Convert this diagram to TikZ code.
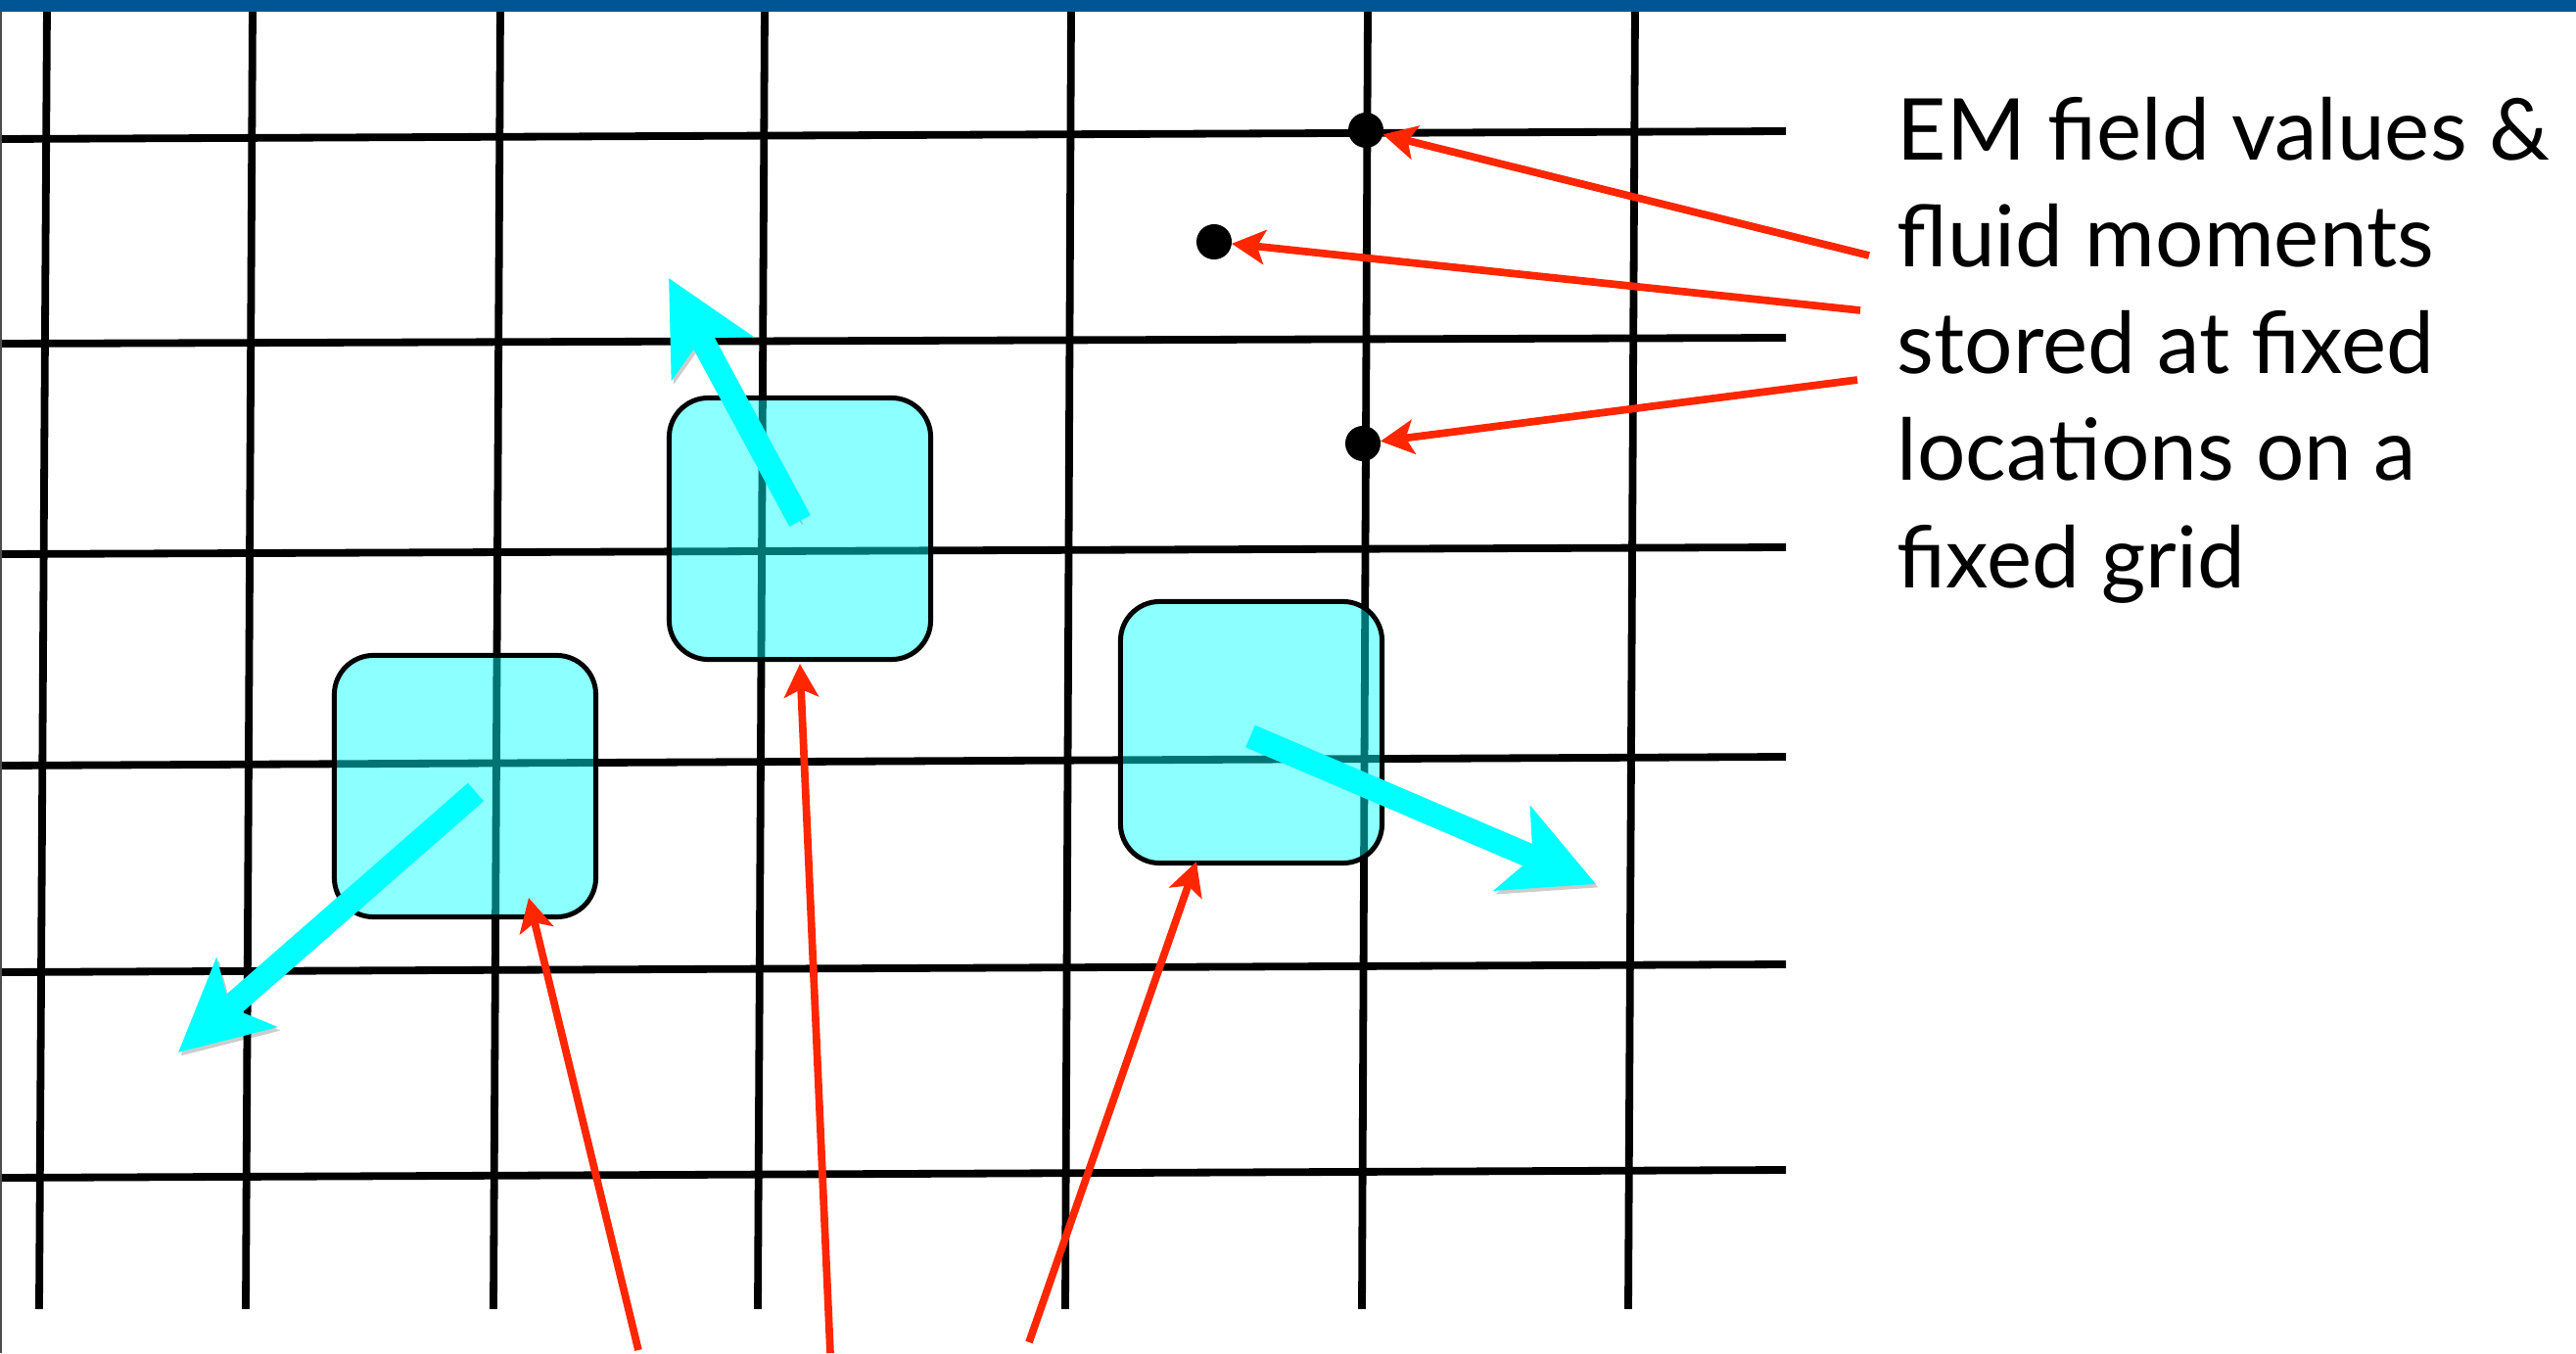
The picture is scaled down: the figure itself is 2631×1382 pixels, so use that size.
\documentclass[tikz,border=0pt]{standalone}
\usepackage{fontspec}
\setmainfont{Lato}
\usetikzlibrary{arrows.meta}
\definecolor{barblue}{RGB}{0,85,149}
\definecolor{ptcyan}{RGB}{0,255,255}
\definecolor{redpointer}{RGB}{255,38,0}
\begin{document}
\begin{tikzpicture}[x=0.01cm, y=-0.01cm,
  gridline/.style={line width=0.078cm, black},
  particle/.style={draw=black, line width=0.05cm, fill=ptcyan, fill opacity=0.45,
    rounded corners=0.4cm, minimum width=2.67cm, minimum height=2.67cm,
    inner sep=0pt, outer sep=0pt},
  gridpoint/.style={circle, fill=black, minimum size=0.36cm, inner sep=0pt, outer sep=0pt},
  velocity/.style={draw=ptcyan, line width=0.245cm,
    -{Stealth[length=0.92cm, width=0.92cm, inset=0.22cm]},
    preaction={draw=black, opacity=0.2, transform canvas={shift={(0.025cm,-0.035cm)}}}},
  pointerarrow/.style={draw=redpointer, line width=0.077cm,
    -{Stealth[length=0.34cm, width=0.35cm, inset=0.08cm]}},
  note/.style={font=\fontsize{24.8pt}{31pt}\selectfont, align=left, inner sep=0pt, anchor=base west}
]
\useasboundingbox (0,0) rectangle (2631,1382);

% fixed grid
\foreach \xt/\xb in {48/40, 258/251, 511/504, 781/774, 1094/1088, 1397/1391, 1670/1663}
  \draw[gridline] (\xt,5) -- (\xb,1337);
\foreach \yl/\yr in {142/134, 351/345, 566/559, 782/773, 993/985, 1203/1195}
  \draw[gridline] (0,\yl) -- (1824,\yr);

% top bar and left edge
\fill[barblue] (0,0) rectangle (2631,12);
\draw[black!70, line width=0.02cm] (1,12) -- (1,1382);

% macro-particles
\node[particle] (pA) at (475,803) {};
\node[particle] (pB) at (817,540) {};
\node[particle] (pC) at (1278,748) {};

% particle velocities
\coordinate (vA0) at (486,809);  \coordinate (vA1) at (182,1075);
\coordinate (vB0) at (817,532);  \coordinate (vB1) at (683,284);
\coordinate (vC0) at (1277,752); \coordinate (vC1) at (1630,903);
\draw[velocity] (vA0) -- (vA1);
\draw[velocity] (vB0) -- (vB1);
\draw[velocity] (vC0) -- (vC1);

% grid storage points
\node[gridpoint] (d1) at (1395,133) {};
\node[gridpoint] (d2) at (1240,247) {};
\node[gridpoint] (d3) at (1392,453) {};

% explanation (the base anchor sits on the last line)
\node[note] (label) at (1937,600) {EM field values \&\\fluid moments\\stored at fixed\\locations on a\\fixed grid};

% pointers to the grid points
\coordinate (t1) at (1909,261);
\coordinate (t2) at (1900,317);
\coordinate (t3) at (1897,388);
\draw[pointerarrow] (t1) -- (d1);
\draw[pointerarrow] (t2) -- (d2);
\draw[pointerarrow] (t3) -- (d3);

% pointers to the particles
\coordinate (b1) at (652,1379);  \coordinate (pAtip) at (540,917);
\coordinate (b2) at (848,1382);  \coordinate (pBtip) at (817,678);
\coordinate (b3) at (1051,1371); \coordinate (pCtip) at (1222,880);
\draw[pointerarrow] (b1) -- (pAtip);
\draw[pointerarrow] (b2) -- (pBtip);
\draw[pointerarrow] (b3) -- (pCtip);
\end{tikzpicture}
\end{document}
